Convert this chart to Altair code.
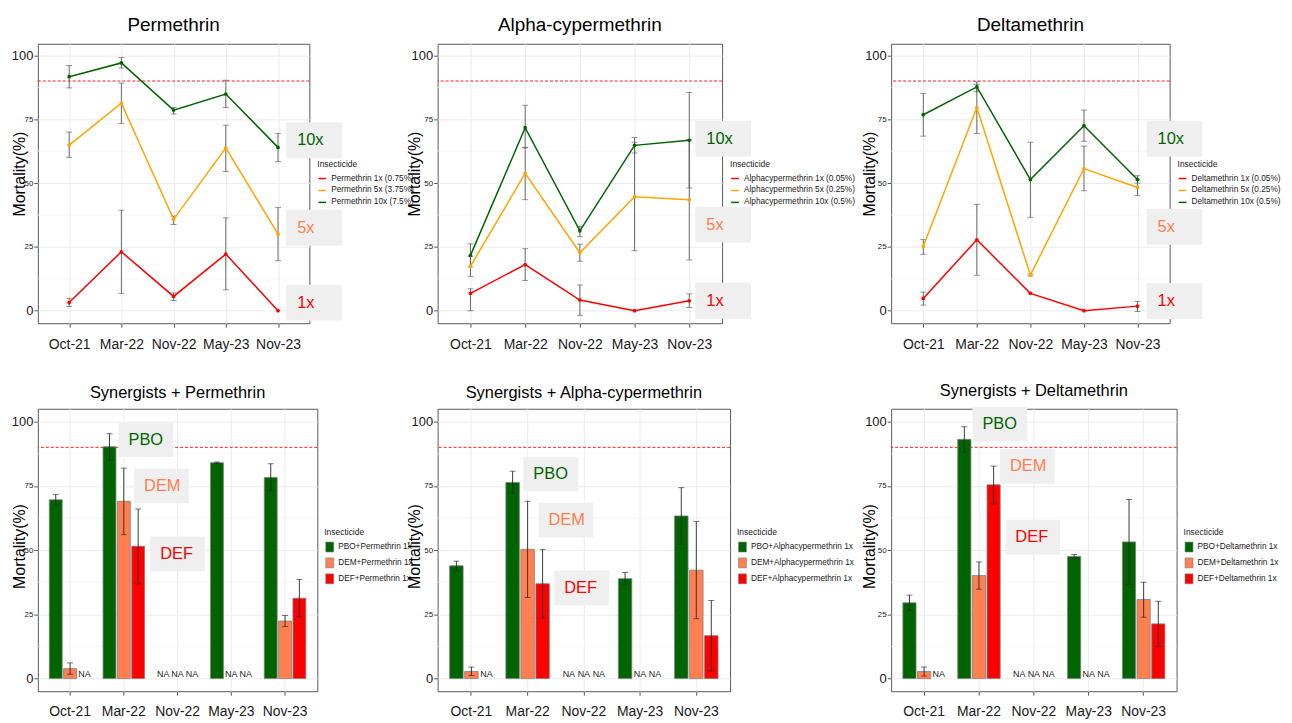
import altair as alt
import pandas as pd

MONTHS = ["Oct-21", "Mar-22", "Nov-22", "May-23", "Nov-23"]
DOSES = ["1x", "5x", "10x"]
SYNERGISTS = ["PBO", "DEM", "DEF"]

PERM_LEGEND = ["Permethrin 1x (0.75%)", "Permethrin 5x (3.75%)", "Permethrin 10x (7.5%)"]
ALPHA_LEGEND = ["Alphacypermethrin 1x (0.05%)", "Alphacypermethrin 5x (0.25%)", "Alphacypermethrin 10x (0.5%)"]
DELTA_LEGEND = ["Deltamethrin 1x (0.05%)", "Deltamethrin 5x (0.25%)", "Deltamethrin 10x (0.5%)"]
SYN_PERM_LEGEND = ["PBO+Permethrin 1x", "DEM+Permethrin 1x", "DEF+Permethrin 1x"]
SYN_ALPHA_LEGEND = ["PBO+Alphacypermethrin 1x", "DEM+Alphacypermethrin 1x", "DEF+Alphacypermethrin 1x"]
SYN_DELTA_LEGEND = ["PBO+Deltamethrin 1x", "DEM+Deltamethrin 1x", "DEF+Deltamethrin 1x"]

# ---- Permethrin
perm_1x = [3.2, 23.1, 5.6, 22.2, 0.0]
perm_1x_lo = [1.7, 6.8, 4.0, 8.2, None]
perm_1x_hi = [4.9, 39.4, 7.0, 36.4, None]
perm_5x = [64.9, 81.3, 35.8, 63.8, 30.0]
perm_5x_lo = [60.1, 73.4, 33.8, 54.5, 19.6]
perm_5x_hi = [70.0, 89.2, 37.1, 72.7, 40.4]
perm_10x = [91.7, 97.1, 78.6, 84.9, 64.0]
perm_10x_lo = [87.3, 95.1, 77.1, 79.6, 58.4]
perm_10x_hi = [96.1, 99.2, 79.6, 90.3, 69.5]

# ---- Alpha-cypermethrin
alpha_1x = [6.8, 18.1, 4.2, 0.0, 3.9]
alpha_1x_lo = [0.0, 11.8, -1.8, None, 1.3]
alpha_1x_hi = [8.6, 24.3, 10.1, None, 6.6]
alpha_5x = [17.4, 53.8, 22.7, 44.7, 43.5]
alpha_5x_lo = [13.5, 43.5, 19.4, 23.5, 19.9]
alpha_5x_hi = [21.3, 64.0, 26.1, 66.0, 67.1]
alpha_10x = [21.7, 71.7, 31.3, 64.8, 66.8]
alpha_10x_lo = [17.2, 63.8, 29.0, 61.8, 48.1]
alpha_10x_hi = [26.2, 80.5, 33.0, 67.9, 85.5]

# ---- Deltamethrin
delta_1x = [4.8, 27.8, 6.8, 0.0, 1.8]
delta_1x_lo = [2.2, 13.9, None, None, -0.3]
delta_1x_hi = [7.3, 41.7, None, None, 3.6]
delta_5x = [25.2, 79.6, 14.0, 55.7, 48.3]
delta_5x_lo = [22.1, 69.4, 13.6, 47.0, 45.1]
delta_5x_hi = [27.9, 88.7, 14.4, 64.5, 51.2]
delta_10x = [76.8, 87.7, 51.4, 72.5, 51.4]
delta_10x_lo = [68.4, 85.8, 36.6, 66.4, 50.0]
delta_10x_hi = [85.1, 89.7, 66.0, 78.6, 52.9]

# ---- Synergists + Permethrin
syn_perm_pbo = [69.6, 90.2, None, 84.0, 78.3]
syn_perm_pbo_lo = [67.5, 85.0, None, 83.7, 73.1]
syn_perm_pbo_hi = [71.7, 95.3, None, 84.3, 83.6]
syn_perm_dem = [3.9, 69.0, None, None, 22.4]
syn_perm_dem_lo = [1.7, 56.0, None, None, 20.3]
syn_perm_dem_hi = [6.1, 81.9, None, None, 24.6]
syn_perm_def = [None, 51.5, None, None, 31.3]
syn_perm_def_lo = [None, 36.9, None, None, 24.2]
syn_perm_def_hi = [None, 66.0, None, None, 38.6]

# ---- Synergists + Alpha-cypermethrin
syn_alpha_pbo = [43.9, 76.3, None, 38.9, 63.3]
syn_alpha_pbo_lo = [42.0, 72.1, None, 36.7, 52.3]
syn_alpha_pbo_hi = [45.7, 80.7, None, 41.3, 74.3]
syn_alpha_dem = [2.8, 50.3, None, None, 42.2]
syn_alpha_dem_lo = [1.2, 31.6, None, None, 23.3]
syn_alpha_dem_hi = [4.5, 69.0, None, None, 61.1]
syn_alpha_def = [None, 36.9, None, None, 16.7]
syn_alpha_def_lo = [None, 23.5, None, None, 3.0]
syn_alpha_def_hi = [None, 50.3, None, None, 30.4]

# ---- Synergists + Deltamethrin
syn_delta_pbo = [29.5, 93.1, None, 47.5, 53.2]
syn_delta_pbo_lo = [26.5, 88.1, None, 46.7, 36.6]
syn_delta_pbo_hi = [32.5, 98.0, None, 48.3, 69.7]
syn_delta_dem = [2.8, 40.1, None, None, 30.8]
syn_delta_dem_lo = [1.0, 34.8, None, None, 23.9]
syn_delta_dem_hi = [4.5, 45.4, None, None, 37.5]
syn_delta_def = [None, 75.4, None, None, 21.3]
syn_delta_def_lo = [None, 68.0, None, None, 12.5]
syn_delta_def_hi = [None, 82.7, None, None, 30.1]

# annotation label positions (x in category units 1..5, y in %)
PERM_LABEL_X, PERM_LABEL_Y = 5.69, [3.2, 32.5, 66.8]
ALPHA_LABEL_X, ALPHA_LABEL_Y = 5.62, [3.9, 33.7, 67.4]
DELTA_LABEL_X, DELTA_LABEL_Y = 5.69, [3.8, 32.9, 67.4]
SYN_PERM_LABEL_X, SYN_PERM_LABEL_Y = [2.41, 2.70, 3.00], [93.0, 75.0, 48.5]
SYN_ALPHA_LABEL_X, SYN_ALPHA_LABEL_Y = [2.41, 2.68, 2.96], [79.6, 61.7, 35.3]
SYN_DELTA_LABEL_X, SYN_DELTA_LABEL_Y = [2.38, 2.88, 2.98], [99.0, 82.6, 55.0]

THRESHOLD = 90
MINOR = [12.5, 37.5, 62.5, 87.5]

LINE_COLORS = ["#FF0000", "#FFA500", "#006400"]
TOP_LABEL_COLORS = ["#FF0000", "#FF7F50", "#006400"]
BAR_COLORS = ["#006400", "#FF7F50", "#FF0000"]

FONT = "Liberation Sans, Arial, sans-serif"

TOP_DOM = [-4.9, 104.6]
BOT_DOM = [-4.9, 105.0]
TOP_H = 281
BOT_H = 284


def x_enc(kind):
    common = dict(title=None, labelAngle=0, labelFont=FONT, labelFontSize=14,
                  labelColor="#1A1A1A", tickSize=4, grid=True)
    if kind == "point":
        scale = alt.Scale(type="point", domain=MONTHS, padding=0.6)
        axis = alt.Axis(labelPadding=10, **common)
    else:
        scale = alt.Scale(type="band", domain=MONTHS, paddingInner=0.2, paddingOuter=0.2)
        axis = alt.Axis(labelPadding=9, bandPosition=0.5, **common)
    return alt.X("month:N", scale=scale, axis=axis, title=None)


def y_enc(field, dom, tx, ty):
    return alt.Y(
        f"{field}:Q",
        scale=alt.Scale(domain=dom, nice=False, zero=False),
        title="Mortality(%)",
        axis=alt.Axis(
            values=[0, 25, 50, 75, 100], titleFont=FONT, titleFontSize=16,
            titleFontWeight="normal", titleColor="#000000", titleX=tx, titleY=ty,
            titleAngle=270, titleAlign="center", titleBaseline="middle",
            labelFont=FONT,
            labelFontSize={"condition": {"test": "datum.value == 0 || datum.value == 100", "value": 13}, "value": 8},
            labelColor="#1A1A1A", labelPadding=1, tickSize=4, grid=True,
        ),
    )


def box_path(w, h):
    r = h / w
    return f"M-1,{-r:.3f}L1,{-r:.3f}L1,{r:.3f}L-1,{r:.3f}Z"


def annotation_layers(xpos, ypos, label, color, step, X, Y, w, h, pad):
    base_idx = min(int(xpos + 1e-9), 5)
    off = (xpos - base_idx) * step
    d = pd.DataFrame({"month": [MONTHS[base_idx - 1]], "ay": [ypos], "lab": [label]})
    box = alt.Chart(d).mark_point(shape=box_path(w, h), size=w * w, filled=True,
                                  color="#EFEFEF", opacity=1, strokeWidth=0,
                                  xOffset=off).encode(x=X(), y=Y("ay"))
    txt = alt.Chart(d).mark_text(align="left", baseline="middle", font=FONT, fontSize=16.5,
                                 color=color, xOffset=off - w / 2 + pad).encode(
        x=X(), y=Y("ay"), text="lab:N")
    return [box, txt]


def legend_def(width, dx, dy, symbol, **kw):
    return alt.Legend(orient="none", legendX=width + dx, legendY=dy,
                      title="Insecticide", titleFont=FONT, titleFontSize=8.5,
                      titleFontWeight="normal", titleColor="#1A1A1A", titlePadding=5,
                      labelFont=FONT, labelFontSize=8.3, labelColor="#1A1A1A",
                      symbolType=symbol, rowPadding=3, **kw)


def make_rows(legend_labels, series):
    rows = []
    for lab, (v, lo, hi) in zip(legend_labels, series):
        for m, a, b, c in zip(MONTHS, v, lo, hi):
            rows.append({"month": m, "series": lab, "value": a, "lo": b, "hi": c,
                         "thr": THRESHOLD})
    return pd.DataFrame(rows)


def top_panel(title, legend_labels, series, width, label_x, label_y, tx, ty):
    df = make_rows(legend_labels, series)
    X = lambda: x_enc("point")
    Y = lambda f: y_enc(f, TOP_DOM, tx, ty)
    color = alt.Color("series:N", scale=alt.Scale(domain=legend_labels, range=LINE_COLORS),
                      legend=legend_def(width, 8, 117, "stroke", labelOffset=4, symbolSize=60,
                                        symbolStrokeWidth=1.5))
    base = alt.Chart(df)
    minor = alt.Chart(pd.DataFrame({"mg": MINOR})).mark_rule(stroke="#F3F3F3", strokeWidth=0.7).encode(y=Y("mg"))
    ref = base.transform_aggregate(thr="max(thr)").mark_rule(
        color="#FF0000", strokeDash=[3, 2], strokeWidth=0.9).encode(y=Y("thr"))
    eb = base.transform_filter("isValid(datum.lo)")
    err = eb.mark_rule(color="#595959", strokeWidth=0.9).encode(x=X(), y=Y("lo"), y2="hi:Q")
    cap1 = eb.mark_tick(color="#595959", size=6, thickness=0.9).encode(x=X(), y=Y("lo"))
    cap2 = eb.mark_tick(color="#595959", size=6, thickness=0.9).encode(x=X(), y=Y("hi"))
    line = base.mark_line(strokeWidth=1.5).encode(x=X(), y=Y("value"), color=color)
    pts = base.mark_point(filled=True, size=14, opacity=1).encode(x=X(), y=Y("value"), color=color)
    layers = [minor, ref, err, cap1, cap2, line, pts]
    step = width / 5.2
    for lab, yv, col in zip(DOSES, label_y, TOP_LABEL_COLORS):
        layers += annotation_layers(label_x, yv, lab, col, step, X, Y, 56, 36, 11)
    return alt.layer(*layers).properties(
        width=width, height=TOP_H,
        title=alt.TitleParams(title, font=FONT, fontSize=19, fontWeight="normal", color="#000000",
                              offset=9, frame="group", anchor="middle"))


def bottom_panel(title, legend_labels, series, width, label_x, label_y, tx, ty):
    df = make_rows(legend_labels, series)
    X = lambda: x_enc("band")
    Y = lambda f: y_enc(f, BOT_DOM, tx, ty)
    XO = lambda: alt.XOffset("series:N", scale=alt.Scale(domain=legend_labels, paddingInner=0.1, paddingOuter=0.05))
    fill = alt.Color("series:N", scale=alt.Scale(domain=legend_labels, range=BAR_COLORS),
                     legend=legend_def(width, 7, 120, "M-0.8,-1L0.8,-1L0.8,1L-0.8,1Z", labelOffset=3,
                                       symbolSize=100, symbolStrokeColor="#7F7F7F",
                                       symbolStrokeWidth=0.6, symbolOpacity=1))
    base = alt.Chart(df)
    minor = alt.Chart(pd.DataFrame({"mg": MINOR})).mark_rule(stroke="#F3F3F3", strokeWidth=0.7).encode(y=Y("mg"))
    ref = base.transform_aggregate(thr="max(thr)").mark_rule(
        color="#FF0000", strokeDash=[3, 2], strokeWidth=0.9).encode(y=Y("thr"))
    bars = base.transform_filter("isValid(datum.value)").mark_bar(stroke="#7F7F7F", strokeWidth=0.8).encode(
        x=X(), xOffset=XO(), y=Y("value"), color=fill)
    eb = base.transform_filter("isValid(datum.lo)")
    err = eb.mark_rule(color="#262626", strokeWidth=0.9).encode(x=X(), xOffset=XO(), y=Y("lo"), y2="hi:Q")
    cap1 = eb.mark_tick(color="#262626", size=6, thickness=0.9).encode(x=X(), xOffset=XO(), y=Y("lo"))
    cap2 = eb.mark_tick(color="#262626", size=6, thickness=0.9).encode(x=X(), xOffset=XO(), y=Y("hi"))
    na = base.transform_filter("!isValid(datum.value)").transform_calculate(z="0").mark_text(
        text="NA", font=FONT, fontSize=9, baseline="alphabetic", dy=-2, color="#1A1A1A").encode(
        x=X(), xOffset=XO(), y=Y("z"))
    layers = [minor, ref, bars, err, cap1, cap2, na]
    step = width / 5.2
    for lab, xv, yv, col in zip(SYNERGISTS, label_x, label_y, BAR_COLORS):
        layers += annotation_layers(xv, yv, lab, col, step, X, Y, 55, 35, 10)
    return alt.layer(*layers).properties(
        width=width, height=BOT_H,
        title=alt.TitleParams(title, font=FONT, fontSize=16.5, fontWeight="normal", color="#000000",
                              offset=7, frame="group", anchor="middle"))


def spacer(w):
    return alt.Chart(pd.DataFrame({"s": [0]})).mark_point(opacity=0).encode(
        x=alt.value(0), y=alt.value(0)).properties(
        width=w, height=1, view=alt.ViewBackground(stroke="transparent"))


p1 = top_panel("Permethrin", PERM_LEGEND,
               [(perm_1x, perm_1x_lo, perm_1x_hi), (perm_5x, perm_5x_lo, perm_5x_hi), (perm_10x, perm_10x_lo, perm_10x_hi)],
               273, PERM_LABEL_X, PERM_LABEL_Y, -18, TOP_H / 2 - 10)
p2 = top_panel("Alpha-cypermethrin", ALPHA_LEGEND,
               [(alpha_1x, alpha_1x_lo, alpha_1x_hi), (alpha_5x, alpha_5x_lo, alpha_5x_hi), (alpha_10x, alpha_10x_lo, alpha_10x_hi)],
               286, ALPHA_LABEL_X, ALPHA_LABEL_Y, -23, TOP_H / 2 - 10)
p3 = top_panel("Deltamethrin", DELTA_LEGEND,
               [(delta_1x, delta_1x_lo, delta_1x_hi), (delta_5x, delta_5x_lo, delta_5x_hi), (delta_10x, delta_10x_lo, delta_10x_hi)],
               280, DELTA_LABEL_X, DELTA_LABEL_Y, -21.5, TOP_H / 2 - 10)
p4 = bottom_panel("Synergists + Permethrin", SYN_PERM_LEGEND,
                  [(syn_perm_pbo, syn_perm_pbo_lo, syn_perm_pbo_hi), (syn_perm_dem, syn_perm_dem_lo, syn_perm_dem_hi), (syn_perm_def, syn_perm_def_lo, syn_perm_def_hi)],
                  281, SYN_PERM_LABEL_X, SYN_PERM_LABEL_Y, -18, BOT_H / 2 - 4)
p5 = bottom_panel("Synergists + Alpha-cypermethrin", SYN_ALPHA_LEGEND,
                  [(syn_alpha_pbo, syn_alpha_pbo_lo, syn_alpha_pbo_hi), (syn_alpha_dem, syn_alpha_dem_lo, syn_alpha_dem_hi), (syn_alpha_def, syn_alpha_def_lo, syn_alpha_def_hi)],
                  294, SYN_ALPHA_LABEL_X, SYN_ALPHA_LABEL_Y, -23, BOT_H / 2 - 4)
p6 = bottom_panel("Synergists + Deltamethrin", SYN_DELTA_LEGEND,
                  [(syn_delta_pbo, syn_delta_pbo_lo, syn_delta_pbo_hi), (syn_delta_dem, syn_delta_dem_lo, syn_delta_dem_hi), (syn_delta_def, syn_delta_def_lo, syn_delta_def_hi)],
                  287, SYN_DELTA_LABEL_X, SYN_DELTA_LABEL_Y, -21.5, BOT_H / 2 - 4)

chart = alt.concat(p1, spacer(121), p2, spacer(162), p3,
                   p4, spacer(121), p5, spacer(162), p6, columns=5).properties(
    spacing={"row": 86, "column": 0}, bounds="flush",
    padding={"left": 2, "top": 5, "right": 2, "bottom": 2},
).resolve_scale(
    x="independent", y="independent", color="independent", xOffset="independent"
).resolve_legend(color="independent").configure_view(
    stroke="#5A5A5A", strokeWidth=1).configure_axis(
    domain=False, tickColor="#5A5A5A", gridColor="#EBEBEB", gridWidth=1)

chart.save("out.html", embed_options={"renderer": "svg", "actions": False})
